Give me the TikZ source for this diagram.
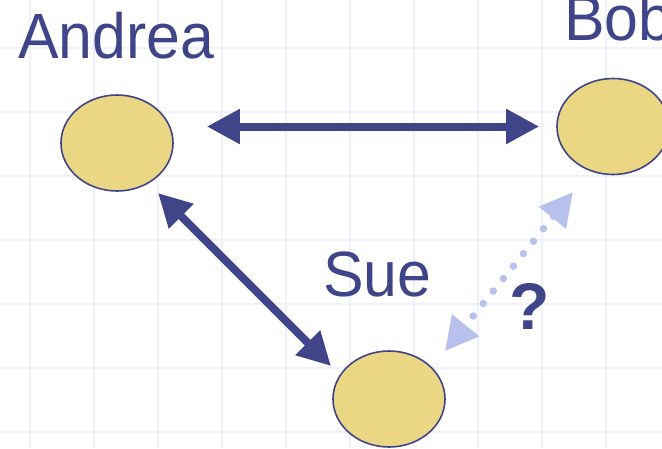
\documentclass[tikz,border=0pt]{standalone}
\usepackage{fontspec}
\setmainfont{Liberation Sans}
\newfontfamily\labelfont[FakeStretch=0.95]{Liberation Sans}
\usetikzlibrary{arrows.meta,shapes.geometric}
\definecolor{inkblue}{HTML}{40458A}
\definecolor{paleblue}{HTML}{B8C1EC}
\definecolor{gridblue}{HTML}{EEF0FC}
\definecolor{gold}{HTML}{EBD683}
\tikzset{
  person/.style={ellipse,draw=inkblue,line width=1.6pt,fill=gold,
    minimum width=112pt,minimum height=96pt,inner sep=0pt},
  personlabel/.style={font=\labelfont\fontsize{64}{64}\selectfont,text=inkblue,inner sep=0pt,anchor=base west},
  link/.style={draw=inkblue,line width=8pt,
    {Triangle[length=33pt,width=33pt]}-{Triangle[length=33pt,width=33pt]}},
  maybe/.style={draw=paleblue,line width=7.5pt,line cap=round,dash pattern=on 0pt off 16pt,
    {Triangle[length=33pt,width=33pt,fill=paleblue]}-{Triangle[length=33pt,width=33pt,fill=paleblue]}},
}
\begin{document}
\begin{tikzpicture}[x=1pt,y=-1pt]
  \useasboundingbox (0,0) rectangle (662,448);
  \fill[white] (0,0) rectangle (662,448);
  % background grid
  \foreach \gx in {30,94,...,606} \draw[gridblue,line width=2pt] (\gx,0) -- (\gx,448);
  \foreach \gy in {48,112,...,432} \draw[gridblue,line width=2pt] (0,\gy) -- (662,\gy);

  % people
  \node[person] (andrea) at (117,143) {};
  \node[person] (bob) at (613,126.5) {};
  \node[person] (sue) at (389,399) {};

  % names
  \node[personlabel] (andreaname) at (18,58) {Andrea};
  \node[personlabel] (bobname) at (564,40) {Bob};
  \node[personlabel] (suename) at (323,296) {Sue};

  % known links
  \draw[link] ([xshift=33pt]andrea.east |- bob.west) -- ([xshift=-17pt]bob.west);
  \draw[link] ([shift={(41,50)}]andrea.center) -- ([shift={(-58,-33)}]sue.center);

  % uncertain link
  \draw[maybe] ([shift={(-40,65.5)}]bob.center) -- ([shift={(56,-48)}]sue.center);
  \node[font=\bfseries\fontsize{66}{66}\selectfont,text=inkblue,inner sep=0pt] (query) at (530,306) {?};
\end{tikzpicture}
\end{document}
